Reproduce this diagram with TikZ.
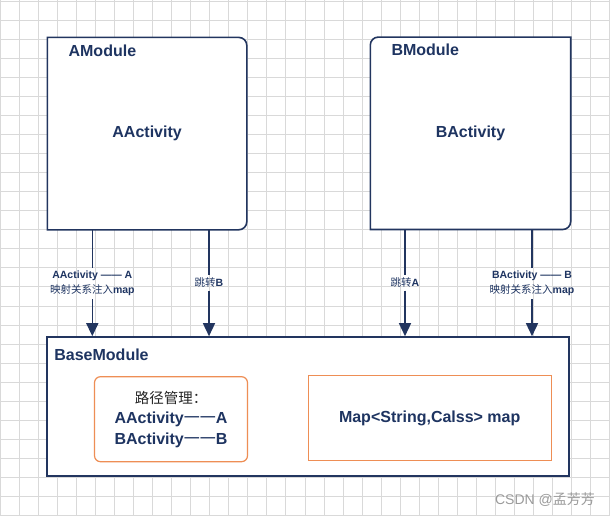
\documentclass[tikz,border=0pt]{standalone}
\usepackage{fontspec}
\setmainfont{Liberation Sans}
\newfontfamily\cjk{Noto Sans CJK SC}
\usetikzlibrary{arrows.meta}
\definecolor{navy}{HTML}{1E3461}
\definecolor{frame}{HTML}{22355F}
\definecolor{routeorange}{HTML}{EE8E55}
\definecolor{gridgray}{HTML}{D9D9D9}
\definecolor{markgray}{HTML}{9A9A9A}
\tikzset{
  modbox/.style   = {minimum width=199pt, minimum height=192pt, text=navy,
                     font=\bfseries\fontsize{16}{20}\selectfont},
  modline/.style  = {draw=frame, fill=white, line width=1.6pt},
  basebox/.style  = {draw=frame, fill=white, line width=1.6pt,
                     minimum width=522pt, minimum height=139pt},
  title/.style    = {inner sep=0pt, anchor=west, text=navy,
                     font=\bfseries\fontsize{16}{20}\selectfont},
  routebox/.style = {draw=routeorange, line width=1.2pt, rounded corners=6pt, align=center,
                     minimum width=153pt, minimum height=85pt, text=navy,
                     font=\bfseries\fontsize{16}{20.5}\selectfont},
  mapbox/.style   = {draw=routeorange, line width=1.2pt, minimum width=243pt,
                     minimum height=85pt, text=navy, font=\bfseries\fontsize{16}{20}\selectfont},
  lbl/.style      = {inner xsep=2pt, inner ysep=3pt, align=center, text=navy,
                     font=\fontsize{10.5}{15}\selectfont},
  wmark/.style    = {text=markgray, font=\fontsize{14}{16}\selectfont},
  gridline/.style = {draw=gridgray, line width=0.6pt},
  link/.style     = {draw=frame, line width=1.5pt},
  arrow/.style    = {link, -{Triangle[length=13pt,width=12pt]}},
}

\begin{document}
\begin{tikzpicture}[x=1pt,y=-1pt]
  \useasboundingbox (0,0) rectangle (610,516);
  % background grid
  \foreach \i in {0,...,32} \draw[gridline] (\i*19.05,0) -- (\i*19.05,516);
  \foreach \i in {0,...,27} \draw[gridline] (0,1+\i*19.05) -- (610,1+\i*19.05);

  % modules
  \node[modbox] (amod) at (147.1,133.6) {};
  \node[modbox, minimum width=200pt] (bmod) at (470.5,133.3) {};
  \filldraw[modline] (amod.north) [rounded corners=8pt] -- (amod.north east) -- (amod.south east)
    -- (amod.south) [sharp corners] -- (amod.south west) -- (amod.north west) -- cycle;
  \filldraw[modline] (bmod.west) [rounded corners=8pt] -- (bmod.north west) -- (bmod.north)
    [sharp corners] -- (bmod.north east) -- (bmod.east) [rounded corners=8pt] -- (bmod.south east)
    -- (bmod.south) [sharp corners] -- (bmod.south west) -- cycle;
  \node[modbox] (aact) at (amod.center) {AActivity};
  \node[modbox] (bact) at (bmod.center) {BActivity};
  \node[title] (amodt) at ([shift={(21,13)}]amod.north west) {AModule};
  \node[title] (bmodt) at ([shift={(21,13)}]bmod.north west) {BModule};

  % base module
  \node[basebox] (base) at (308,406.5) {};
  \node[title] (baset) at ([shift={(8,19)}]base.north west) {BaseModule};
  \node[routebox] (route) at (171,419.2)
       {{\cjk\mdseries\color{black!85}\fontsize{14.5}{20}\selectfont 路径管理：}\\
        AActivity{\cjk\mdseries 一一}A\\BActivity{\cjk\mdseries 一一}B};
  \node[mapbox] (map) at (429.7,418.3) {Map<String,Calss> map};

  % labels on the links
  \node[lbl] (amap) at (92.3,283.5) {\textbf{AActivity —— A}\\{\cjk 映射关系注入}\textbf{map}};
  \node[lbl] (tob)  at (209,282.7)  {{\cjk 跳转}\textbf{B}};
  \node[lbl] (toa)  at (405,282.7)  {{\cjk 跳转}\textbf{A}};
  \node[lbl] (bmap) at (532,283.5)  {\textbf{BActivity —— B}\\{\cjk 映射关系注入}\textbf{map}};

  \draw[link]  (amod.south -| amap) -- (amap.north);
  \draw[arrow] (amap.south) -- (base.north -| amap);
  \draw[link]  (amod.south -| tob) -- (tob.north);
  \draw[arrow] (tob.south) -- (base.north -| tob);
  \draw[link]  (bmod.south -| toa) -- (toa.north);
  \draw[arrow] (toa.south) -- (base.north -| toa);
  \draw[link]  (bmod.south -| bmap) -- (bmap.north);
  \draw[arrow] (bmap.south) -- (base.north -| bmap);

  \node[wmark] (csdn) at (545,500) {CSDN @{\cjk 孟芳芳}};
\end{tikzpicture}
\end{document}
